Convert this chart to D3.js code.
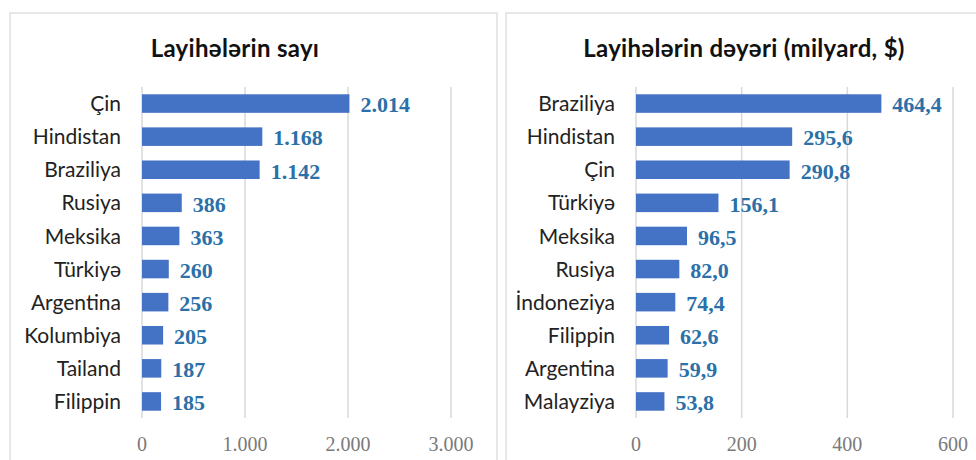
<!DOCTYPE html>
<html><head><meta charset="utf-8">
<script src="https://cdn.jsdelivr.net/npm/d3@7"></script>
<style>body{margin:0;background:#fff}svg{display:block}</style>
</head><body><svg id="c" width="976" height="460"></svg>
<script>
const leftTitle = "Layihələrin sayı";
const leftCategories = ["Çin","Hindistan","Braziliya","Rusiya","Meksika","Türkiyə","Argentina","Kolumbiya","Tailand","Filippin"];
const leftValues = [2014,1168,1142,386,363,260,256,205,187,185];
const leftLabels = ["2.014","1.168","1.142","386","363","260","256","205","187","185"];
const leftTicks = [0,1000,2000,3000];
const leftTickLabels = ["0","1.000","2.000","3.000"];

const rightTitle = "Layihələrin dəyəri (milyard, $)";
const rightCategories = ["Braziliya","Hindistan","Çin","Türkiyə","Meksika","Rusiya","İndoneziya","Filippin","Argentina","Malayziya"];
const rightValues = [464.4,295.6,290.8,156.1,96.5,82.0,74.4,62.6,59.9,53.8];
const rightLabels = ["464,4","295,6","290,8","156,1","96,5","82,0","74,4","62,6","59,9","53,8"];
const rightTicks = [0,200,400,600];
const rightTickLabels = ["0","200","400","600"];

const svg = d3.select("#c");
const sans = "Lato, 'Open Sans', sans-serif";
const serif = "'Liberation Serif', 'DejaVu Serif', serif";

function panel(cfg){
  const g = svg.append("g");
  g.append("rect").attr("x",cfg.px).attr("y",13).attr("width",cfg.pw).attr("height",470)
    .attr("fill","#fff").attr("stroke","#e0e0e0").attr("stroke-width",1.5);
  g.append("text").attr("x",cfg.tx).attr("y",57).attr("text-anchor","middle")
    .attr("font-family",sans).attr("font-weight","bold")
    .attr("font-size",24).attr("letter-spacing","0.3px").attr("fill","#111").text(cfg.title);
  const x = d3.scaleLinear().domain([0, cfg.ticks[cfg.ticks.length-1]]).range([cfg.x0, cfg.x1]);
  const y = d3.scaleBand().domain(cfg.cats).range([87,418]).paddingInner(0.44).paddingOuter(0.22);
  g.selectAll(".grid").data(cfg.ticks).join("line")
    .attr("x1",d=>x(d)).attr("x2",d=>x(d)).attr("y1",87).attr("y2",418)
    .attr("stroke","#d9d9d9").attr("stroke-width",1.5);
  g.selectAll(".tl").data(cfg.ticks).join("text")
    .attr("x",d=>x(d)).attr("y",451).attr("text-anchor","middle")
    .attr("font-family",serif).attr("font-size",20)
    .attr("fill","#7a7a7a").text((d,i)=>cfg.tickLabels[i]);
  g.selectAll(".bar").data(cfg.vals).join("rect")
    .attr("x",x(0)).attr("y",(d,i)=>y(cfg.cats[i])).attr("width",d=>x(d)-x(0))
    .attr("height",y.bandwidth()).attr("fill","#4472c4");
  g.selectAll(".cat").data(cfg.cats).join("text")
    .attr("x",x(0)-21).attr("y",d=>y(d)+y.bandwidth()/2).attr("dy","0.36em")
    .attr("text-anchor","end").attr("font-family",sans)
    .attr("font-size",21).attr("fill","#222").text(d=>d);
  g.selectAll(".val").data(cfg.vals).join("text")
    .attr("x",d=>x(d)+11).attr("y",(d,i)=>y(cfg.cats[i])+y.bandwidth()/2).attr("dy","0.4em")
    .attr("font-family",serif).attr("font-weight","bold")
    .attr("font-size",22).attr("fill","#2b70a8").text((d,i)=>cfg.labels[i]);
}

panel({px:10,pw:487,tx:235,title:leftTitle,cats:leftCategories,vals:leftValues,labels:leftLabels,
  ticks:leftTicks,tickLabels:leftTickLabels,x0:142,x1:451});
panel({px:506,pw:480,tx:744,title:rightTitle,cats:rightCategories,vals:rightValues,labels:rightLabels,
  ticks:rightTicks,tickLabels:rightTickLabels,x0:636,x1:953});
</script></body></html>
